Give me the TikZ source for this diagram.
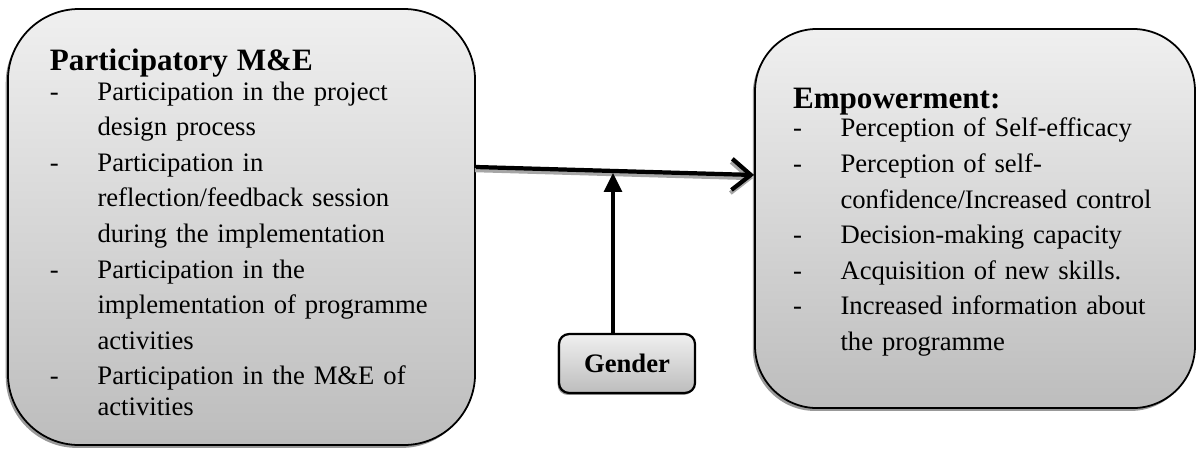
\documentclass[tikz,border=0pt]{standalone}
\usepackage{fontspec}
\setmainfont{Liberation Serif}
\usepackage{tikz}
\usetikzlibrary{arrows.meta,shadows,positioning}
\setlength{\parindent}{0pt}
\newcommand{\boxtitle}[1]{\multicolumn{2}{@{}l@{}}{\fontsize{14}{16}\selectfont\bfseries #1}}
\newcommand{\lowered}[2]{\raisebox{-#1}[\height][\depth]{#2}}

\begin{document}
\begin{tikzpicture}[x=0.45pt,y=0.45pt,
    bigbox/.style={draw, line width=0.8pt, top color=gray!12, bottom color=gray!52,
      drop shadow={shadow xshift=-1pt, shadow yshift=-1.3pt, fill=gray!80, opacity=1},
      align=left, font=\fontsize{12}{16}\selectfont},
    genderbox/.style={draw, line width=1pt, rounded corners=4.5pt, top color=gray!12, bottom color=gray!52,
      drop shadow={shadow xshift=-0.6pt, shadow yshift=-0.9pt, fill=gray!80, opacity=1},
      minimum width=61.2pt, minimum height=26.5pt, font=\fontsize{12}{14}\selectfont\bfseries},
    mainarrow/.style={line width=1.9pt, -{Straight Barb[length=8.5pt,width=14pt]}},
    arrowshadow/.style={line width=1.9pt, gray!70, -{Straight Barb[length=8.5pt,width=14pt]}},
    genderarrow/.style={line width=1.5pt, -{Triangle[length=8.5pt,width=8pt]}}]
  \useasboundingbox (0,0) rectangle (1197,448);

  % participatory M&E
  \node[bigbox, rounded corners=32pt, inner xsep=18.9pt, text width=172.4pt,
        minimum height=196.2pt] (pme) at (241.5,221) {%
    \lowered{4pt}{\begin{tabular}{@{}p{21.4pt}@{}l@{}}
      \boxtitle{Participatory M\&E}\\[-2.7pt]
      - & Participation in the project\\
        & design process\\
      - & Participation in\\
        & reflection/feedback session\\
        & during the implementation\\
      - & Participation in the\\
        & implementation of programme\\
        & activities\\
      - & Participation in the M\&E of\\[-2.2pt]
        & activities
    \end{tabular}}};

  % empowerment
  \node[bigbox, rounded corners=28pt, inner xsep=17.1pt, text width=163.8pt,
        minimum height=170.6pt] (emp) at (975,229.5) {%
    \lowered{1.6pt}{\begin{tabular}{@{}p{21.4pt}@{}l@{}}
      \boxtitle{Empowerment:}\\[-3pt]
      - & Perception of Self-efficacy\\
      - & Perception of self-\\
        & confidence/Increased control\\
      - & Decision-making capacity\\
      - & Acquisition of new skills.\\
      - & Increased information about\\
        & the programme
    \end{tabular}}};

  % moderator
  \node[genderbox] (gender) at (627,84.5) {Gender};

  \coordinate (srcy) at (0,281);
  \coordinate (dsty) at (0,273);
  \coordinate (meet) at (613,275);

  \draw[arrowshadow, transform canvas={shift={(-0.5pt,-1.4pt)}}] (pme.east |- srcy) -- (emp.west |- dsty);
  \draw[mainarrow] (pme.east |- srcy) -- (emp.west |- dsty);
  \draw[genderarrow] (gender.north -| meet) -- (meet);
\end{tikzpicture}
\end{document}
